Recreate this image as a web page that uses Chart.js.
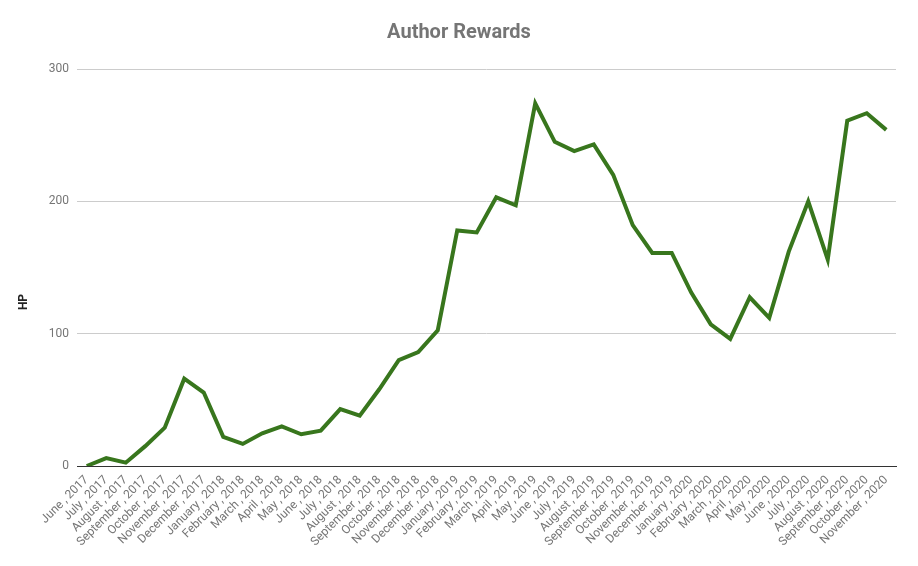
<!DOCTYPE html>
<html>
<head>
<meta charset="utf-8">
<script src="https://cdn.jsdelivr.net/npm/chart.js@4"></script>
<style>
  html, body { margin: 0; padding: 0; background: #ffffff; }
  #wrap { width: 918px; height: 566px; position: relative; }
</style>
</head>
<body>
<div id="wrap"><canvas id="c"></canvas></div>
<script>
const categories = [
  "June , 2017", "July , 2017", "August , 2017", "September , 2017", "October , 2017", "November , 2017", "December , 2017",
  "January , 2018", "February , 2018", "March , 2018", "April , 2018", "May , 2018", "June , 2018", "July , 2018",
  "August , 2018", "September , 2018", "October , 2018", "November , 2018", "December , 2018",
  "January , 2019", "February , 2019", "March , 2019", "April , 2019", "May , 2019", "June , 2019", "July , 2019",
  "August , 2019", "September , 2019", "October , 2019", "November , 2019", "December , 2019",
  "January , 2020", "February , 2020", "March , 2020", "April , 2020", "May , 2020", "June , 2020", "July , 2020",
  "August , 2020", "September , 2020", "October , 2020", "November , 2020"
];
const authorRewards = [
  0, 6, 2.5, 15, 29, 66, 55.5,
  22, 16.7, 24.7, 30, 24, 26.7, 43,
  38, 58, 80, 86, 102.5,
  178, 176.5, 203, 197, 274, 245, 238,
  243, 220, 182, 161, 161,
  131, 107, 96, 127.5, 112, 162, 200,
  156, 261, 266.6, 254
];
const yTicks = [0, 100, 200, 300];
const chartTitle = 'Author Rewards';
const yAxisTitle = 'HP';

const gray = '#757575';

const yTitlePlugin = {
  id: 'yTitle',
  afterDraw(chart) {
    const ctx = chart.ctx;
    ctx.save();
    ctx.translate(24, 302);
    ctx.rotate(-Math.PI / 2);
    ctx.font = 'bold 12px Roboto';
    ctx.fillStyle = '#222222';
    ctx.textAlign = 'center';
    ctx.textBaseline = 'middle';
    ctx.fillText(yAxisTitle, 0, 0);
    ctx.restore();
  }
};

new Chart(document.getElementById('c'), {
  type: 'line',
  data: {
    labels: categories,
    datasets: [{
      label: yAxisTitle,
      data: authorRewards,
      borderColor: '#38761d',
      backgroundColor: '#38761d',
      borderWidth: 4,
      pointRadius: 0,
      tension: 0,
      fill: false
    }]
  },
  plugins: [yTitlePlugin],
  options: {
    responsive: true,
    maintainAspectRatio: false,
    animation: false,
    layout: { padding: { left: 0, right: 0, top: 0, bottom: 0 } },
    plugins: {
      legend: { display: false },
      tooltip: { enabled: false },
      title: {
        display: true,
        text: chartTitle,
        color: gray,
        font: { family: 'Roboto', size: 20, weight: 'bold' },
        padding: { top: 21, bottom: 24 }
      }
    },
    scales: {
      x: {
        offset: true,
        grid: { display: false, drawTicks: false, tickLength: 0 },
        border: { display: true, color: '#333333', width: 1 },
        ticks: {
          autoSkip: false,
          maxRotation: 45,
          minRotation: 45,
          color: gray,
          padding: 7,
          font: { family: 'Roboto', size: 12 }
        },
        afterFit: (s) => { s.height = 100; }
      },
      y: {
        min: 0,
        max: 300,
        afterBuildTicks: (s) => { s.ticks = yTicks.map(v => ({ value: v })); },
        grid: {
          drawTicks: false,
          tickLength: 0,
          color: (ctx) => (ctx.tick && ctx.tick.value === 0) ? '#333333' : '#cccccc',
          lineWidth: 1
        },
        border: { display: false },
        ticks: {
          color: gray,
          padding: 8,
          font: { family: 'Roboto', size: 12 }
        },
        afterFit: (s) => { s.width = 77; }
      },
      yRight: {
        position: 'right',
        min: 0,
        max: 300,
        grid: { display: false, drawTicks: false },
        border: { display: false },
        ticks: { display: false },
        afterFit: (s) => { s.width = 22; }
      }
    }
  }
});
</script>
</body>
</html>
